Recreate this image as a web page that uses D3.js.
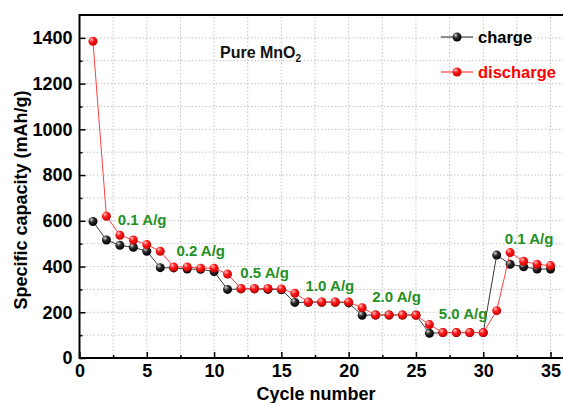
<!DOCTYPE html>
<html>
<head>
<meta charset="utf-8">
<script src="https://cdn.jsdelivr.net/npm/d3@7"></script>
<style>
  body { margin: 0; background: #fff; }
  text { font-family: Arial, "Liberation Sans", sans-serif; font-weight: bold; }
</style>
</head>
<body>
<script>
var cycles = [1,2,3,4,5,6,7,8,9,10,11,12,13,14,15,16,17,18,19,20,21,22,23,24,25,26,27,28,29,30,31,32,33,34,35];
var charge = [597,516,493,484,467,395,394,389,388,378,300,302,302,300,298,243,244,244,244,241,187,188,188,188,188,108,111,111,111,111,450,410,399,389,389];
var discharge = [1385,620,537,516,496,467,398,398,393,393,367,304,304,304,302,283,245,245,245,245,220,188,188,188,187,146,111,111,111,111,207,461,423,410,404];
var rateLabels = ['0.1 A/g', '0.2 A/g', '0.5 A/g', '1.0 A/g', '2.0 A/g', '5.0 A/g', '0.1 A/g'];
var rateX = [2.85, 7.2, 11.95, 16.8, 21.75, 26.7, 31.6];
var rateY = [582, 446, 348, 294, 243, 169, 497];
var xTicks = [0,5,10,15,20,25,30,35];
var yTicks = [0,200,400,600,800,1000,1200,1400];

var width = 563, height = 403;
var x = d3.scaleLinear().domain([0, 36]).range([79.5, 564]);
var y = d3.scaleLinear().domain([0, 1500]).range([358, 15]);

var svg = d3.select('body').append('svg')
  .attr('width', width)
  .attr('height', height);

var defs = svg.append('defs');
function ball(id, c0, c1, c2) {
  var g = defs.append('radialGradient').attr('id', id)
    .attr('cx', '40%').attr('cy', '35%').attr('r', '65%')
    .attr('fx', '32%').attr('fy', '28%');
  g.append('stop').attr('offset', '0%').attr('stop-color', c0);
  g.append('stop').attr('offset', '45%').attr('stop-color', c1);
  g.append('stop').attr('offset', '100%').attr('stop-color', c2);
}
ball('gBlack', '#d8d8d8', '#2a2a2a', '#000');
ball('gRed', '#ffc8c8', '#ff1a1a', '#c80000');

// grid
var grid = svg.append('g').attr('stroke', '#c4c4c4').attr('stroke-dasharray', '1.5,2');
grid.selectAll('.vg').data(d3.range(2.5, 36, 2.5)).enter().append('line')
  .attr('x1', function(d) { return x(d); }).attr('x2', function(d) { return x(d); })
  .attr('y1', y(0)).attr('y2', y(1500));
grid.selectAll('.hg').data(d3.range(100, 1500, 100)).enter().append('line')
  .attr('y1', function(d) { return y(d); }).attr('y2', function(d) { return y(d); })
  .attr('x1', x(0)).attr('x2', x(36));

// axes
var xAxis = svg.append('g').attr('transform', 'translate(0,' + y(0) + ')')
  .call(d3.axisBottom(x).tickValues(xTicks).tickSize(-6).tickPadding(6).tickFormat(d3.format('d')));
var xMinor = svg.append('g').attr('transform', 'translate(0,' + y(0) + ')')
  .call(d3.axisBottom(x).tickValues(d3.range(2.5, 36, 5)).tickSize(-3).tickFormat(''));
var yAxis = svg.append('g').attr('transform', 'translate(' + x(0) + ',0)')
  .call(d3.axisLeft(y).tickValues(yTicks).tickSize(-6).tickPadding(7).tickFormat(d3.format('d')));
var yMinor = svg.append('g').attr('transform', 'translate(' + x(0) + ',0)')
  .call(d3.axisLeft(y).tickValues(d3.range(100, 1500, 200)).tickSize(-3).tickFormat(''));
[xAxis, xMinor, yAxis, yMinor].forEach(function(a) {
  a.select('.domain').remove();
  a.selectAll('line').attr('stroke', '#000').attr('stroke-width', 1.5);
  a.selectAll('text').attr('font-size', '18px').attr('fill', '#000')
    .style('font-family', 'Arial, "Liberation Sans", sans-serif');
});

svg.append('rect')
  .attr('x', x(0)).attr('y', y(1500))
  .attr('width', x(36) - x(0)).attr('height', y(0) - y(1500))
  .attr('fill', 'none').attr('stroke', '#000').attr('stroke-width', 2);

// axis titles
svg.append('text')
  .attr('transform', 'translate(27,200) rotate(-90)')
  .attr('text-anchor', 'middle').attr('font-size', '18px')
  .text('Specific capacity (mAh/g)');
svg.append('text')
  .attr('x', 316).attr('y', 400)
  .attr('text-anchor', 'middle').attr('font-size', '18px')
  .text('Cycle number');

// series
var line = d3.line()
  .x(function(d) { return x(d[0]); })
  .y(function(d) { return y(d[1]); });

function series(vals, lineColor, grad) {
  var pts = cycles.map(function(c, i) { return [c, vals[i]]; });
  svg.append('path').datum(pts)
    .attr('d', line).attr('fill', 'none')
    .attr('stroke', lineColor).attr('stroke-width', 1);
  svg.append('g').selectAll('circle').data(pts).enter().append('circle')
    .attr('cx', function(d) { return x(d[0]); })
    .attr('cy', function(d) { return y(d[1]); })
    .attr('r', 4.5)
    .attr('fill', 'url(#' + grad + ')');
}
series(charge, '#3a3a3a', 'gBlack');
series(discharge, '#ff4040', 'gRed');

// rate labels
svg.append('g').selectAll('text').data(rateLabels).enter().append('text')
  .attr('x', function(d, i) { return x(rateX[i]); })
  .attr('y', function(d, i) { return y(rateY[i]); })
  .attr('font-size', '15px').attr('fill', '#239023')
  .text(function(d) { return d; });

// sample name
var title = svg.append('text').attr('x', 220).attr('y', 58).attr('font-size', '16px').attr('fill', '#111');
title.append('tspan').text('Pure MnO');
title.append('tspan').attr('font-size', '10px').attr('dy', 4).text('2');

// legend
var legend = [
  {name: 'charge', color: '#000', line: '#444', grad: 'gBlack', y: 37},
  {name: 'discharge', color: '#ff0000', line: '#ff4040', grad: 'gRed', y: 72}
];
var lg = svg.append('g').selectAll('g').data(legend).enter().append('g');
lg.append('line')
  .attr('x1', 441).attr('x2', 473)
  .attr('y1', function(d) { return d.y; }).attr('y2', function(d) { return d.y; })
  .attr('stroke', function(d) { return d.line; }).attr('stroke-width', 1.2);
lg.append('circle')
  .attr('cx', 457).attr('cy', function(d) { return d.y; }).attr('r', 4.5)
  .attr('fill', function(d) { return 'url(#' + d.grad + ')'; });
lg.append('text')
  .attr('x', 478).attr('y', function(d) { return d.y + 6; })
  .attr('font-size', '16.5px')
  .attr('fill', function(d) { return d.color; })
  .text(function(d) { return d.name; });
</script>
</body>
</html>
